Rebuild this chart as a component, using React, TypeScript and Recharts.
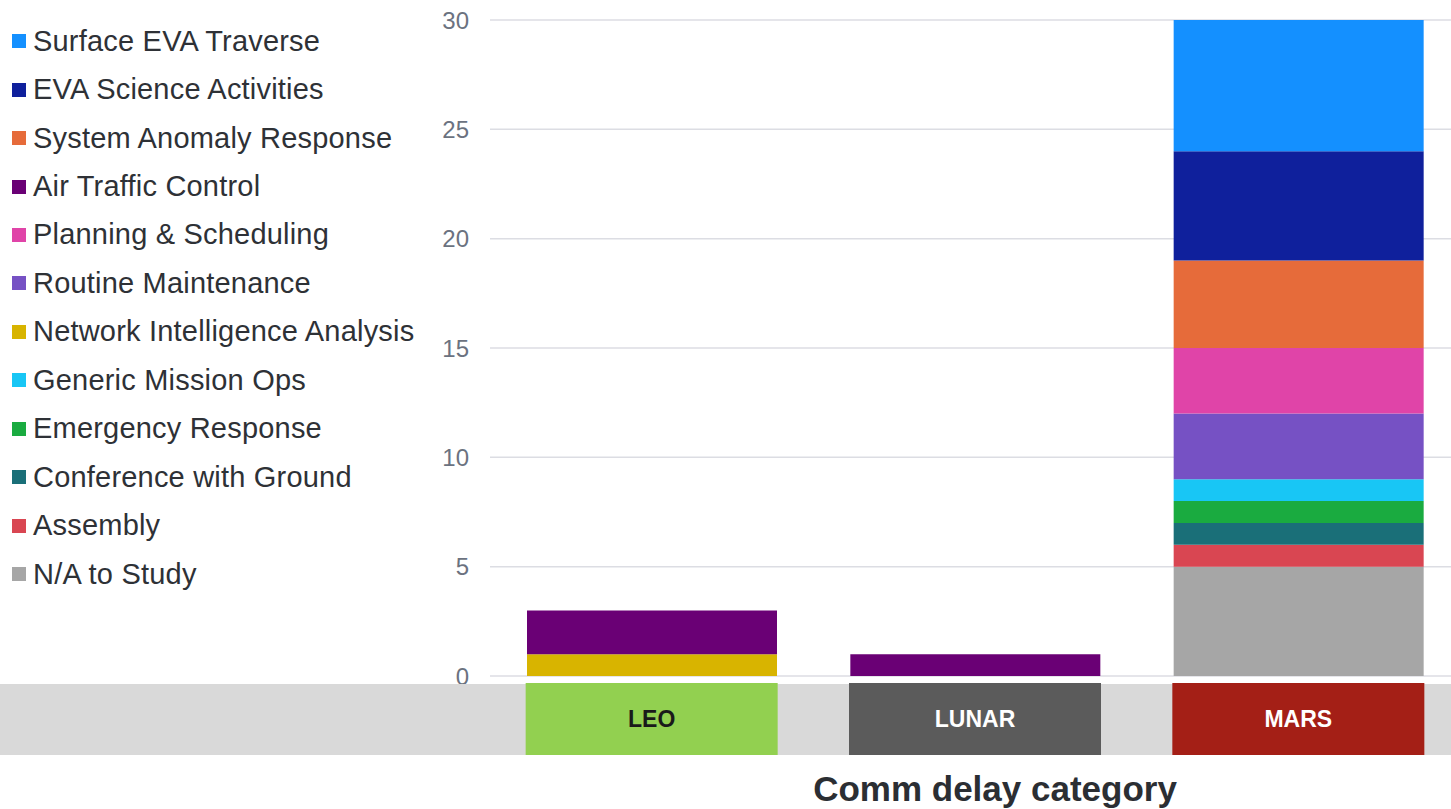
import React from "react";
import {
  Bar,
  BarChart,
  CartesianGrid,
  Label,
  Legend,
  XAxis,
  YAxis,
} from "recharts";

const FONT = '"Liberation Sans", Arial, sans-serif';

const CATEGORIES = ["LEO", "LUNAR", "MARS"];
const CATEGORY_FILLS = ["#92d050", "#5b5b5b", "#a41f16"];
const CATEGORY_TEXT = ["#1a1a1a", "#ffffff", "#ffffff"];

// stack order, bottom to top
const SERIES_NAMES = [
  "N/A to Study",
  "Assembly",
  "Conference with Ground",
  "Emergency Response",
  "Generic Mission Ops",
  "Network Intelligence Analysis",
  "Routine Maintenance",
  "Planning & Scheduling",
  "Air Traffic Control",
  "System Anomaly Response",
  "EVA Science Activities",
  "Surface EVA Traverse",
];
const SERIES_COLORS = [
  "#a6a6a6",
  "#d94652",
  "#1a6f78",
  "#1aab40",
  "#18c6f5",
  "#d8b400",
  "#7651c4",
  "#e044a8",
  "#6a0075",
  "#e66b3a",
  "#0f209c",
  "#1490ff",
];

// values per category: LEO, LUNAR, MARS
const naToStudy = [0, 0, 5];
const assembly = [0, 0, 1];
const conference = [0, 0, 1];
const emergency = [0, 0, 1];
const genericOps = [0, 0, 1];
const networkIntel = [1, 0, 0];
const routineMaint = [0, 0, 3];
const planning = [0, 0, 3];
const airTraffic = [2, 1, 0];
const anomaly = [0, 0, 4];
const evaScience = [0, 0, 5];
const surfaceEva = [0, 0, 6];

const SERIES_VALUES = [
  naToStudy,
  assembly,
  conference,
  emergency,
  genericOps,
  networkIntel,
  routineMaint,
  planning,
  airTraffic,
  anomaly,
  evaScience,
  surfaceEva,
];

const Y_TICKS = [0, 5, 10, 15, 20, 25, 30];

const data = CATEGORIES.map((cat, ci) => {
  const row: Record<string, string | number> = { category: cat };
  SERIES_NAMES.forEach((name, si) => {
    row[name] = SERIES_VALUES[si][ci];
  });
  return row;
});

const CHART_W = 1460;
const CHART_H = 809;

function CategoryTick(props: any) {
  const { x, y, payload, index } = props;
  const ci = CATEGORIES.indexOf(payload.value);
  return (
    <g>
      {index === 0 && (
        <rect x={0} y={y + 8} width={CHART_W} height={71} fill="#d9d9d9" />
      )}
      <rect x={x - 126} y={y + 7} width={252} height={72} fill={CATEGORY_FILLS[ci]} />
      <text
        x={x}
        y={y + 45}
        textAnchor="middle"
        dominantBaseline="middle"
        fontFamily={FONT}
        fontWeight="bold"
        fontSize={23}
        fill={CATEGORY_TEXT[ci]}
      >
        {payload.value}
      </text>
    </g>
  );
}

function LegendList() {
  const items = SERIES_NAMES.map((name, i) => ({ name, color: SERIES_COLORS[i] })).reverse();
  return (
    <div style={{ paddingTop: 17 }}>
      {items.map((item) => (
        <div
          key={item.name}
          style={{
            height: 48.45,
            display: "flex",
            alignItems: "center",
            fontFamily: FONT,
            fontSize: 29,
            letterSpacing: 0.2,
            color: "#2e3136",
            whiteSpace: "nowrap",
          }}
        >
          <span
            style={{
              display: "inline-block",
              width: 14,
              height: 14,
              marginLeft: 12,
              marginRight: 7,
              background: item.color,
            }}
          />
          {item.name}
        </div>
      ))}
    </div>
  );
}

export default function App() {
  return (
    <div
      style={{
        position: "fixed",
        left: 0,
        top: 0,
        width: 1451,
        height: 809,
        overflow: "hidden",
        background: "#ffffff",
      }}
    >
      <BarChart
        width={CHART_W}
        height={CHART_H}
        data={data}
        margin={{ top: 20, right: 0, bottom: 0, left: 0 }}
        barSize={250}
      >
        <CartesianGrid vertical={false} stroke="#dcdde3" strokeWidth={1.5} />
        <YAxis
          width={490}
          domain={[0, 30]}
          ticks={Y_TICKS}
          axisLine={false}
          tickLine={false}
          tickSize={0}
          tickMargin={21}
          tick={{ fill: "#6b7280", fontSize: 24, fontFamily: FONT }}
        />
        <XAxis
          dataKey="category"
          height={133}
          axisLine={false}
          tickLine={false}
          tickSize={0}
          tickMargin={0}
          tick={<CategoryTick />}
          interval={0}
        >
          <Label
            value="Comm delay category"
            position="insideBottom"
            offset={8}
            dx={20}
            fill="#2b2e33"
            fontFamily={FONT}
            fontWeight="bold"
            fontSize={35}
          />
        </XAxis>
        <Legend
          layout="vertical"
          align="center"
          verticalAlign="middle"
          wrapperStyle={{ left: 0, top: 0, width: 440, height: 600 }}
          content={() => <LegendList />}
        />
        {SERIES_NAMES.map((name, i) => (
          <Bar
            key={name}
            dataKey={name}
            stackId="a"
            fill={SERIES_COLORS[i]}
            isAnimationActive={false}
          />
        ))}
      </BarChart>
    </div>
  );
}
